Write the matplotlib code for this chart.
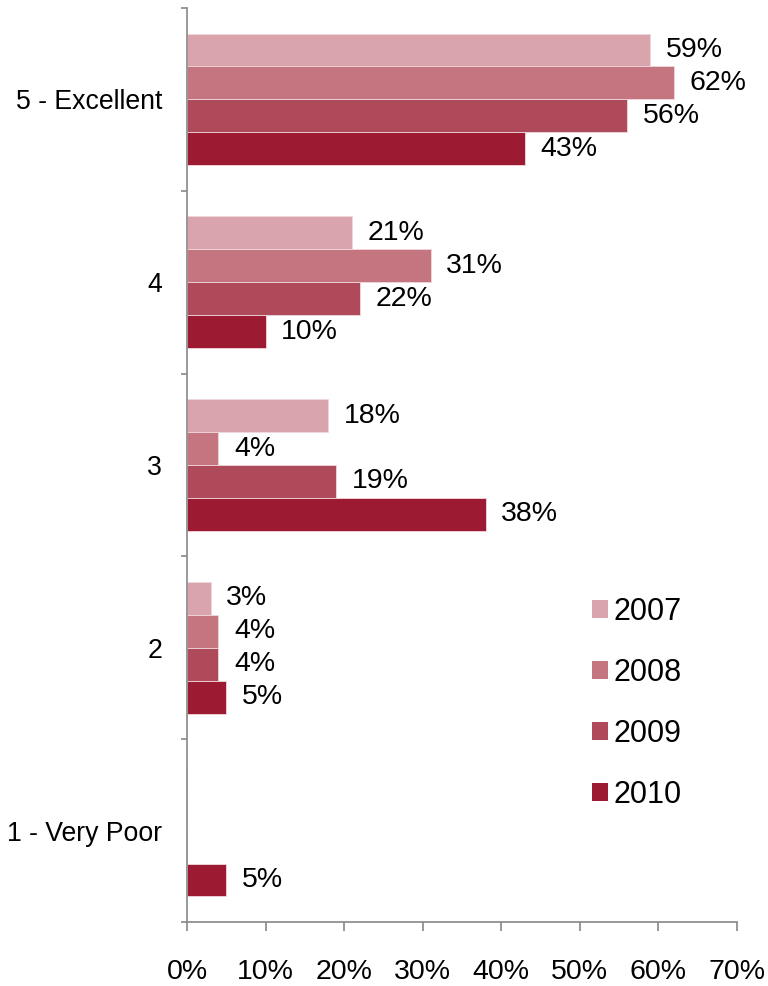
import matplotlib.pyplot as plt
from matplotlib.patches import Patch
import numpy as np

plt.rcParams['font.family'] = ['Liberation Sans', 'DejaVu Sans']

ratings = ["5 - Excellent", "4", "3", "2", "1 - Very Poor"]
years = ["2007", "2008", "2009", "2010"]
share_2007 = [59, 21, 18, 3, 0]
share_2008 = [62, 31, 4, 4, 0]
share_2009 = [56, 22, 19, 4, 0]
share_2010 = [43, 10, 38, 5, 5]
x_ticks = [0, 10, 20, 30, 40, 50, 60, 70]

series = [share_2007, share_2008, share_2009, share_2010]
colors = ["#D9A4AC", "#C47580", "#AE4A5A", "#9C1A32"]

fig = plt.figure(figsize=(7.68, 9.86), dpi=100)
ax = fig.add_axes([0.2435, 0.0649, 0.716, 0.927])

bar_h = 0.18
pos = np.arange(len(ratings))
for i, (vals, col) in enumerate(zip(series, colors)):
    y = pos + (i - 1.5) * bar_h
    ax.barh(y, vals, height=bar_h, color=col, edgecolor="#F0D8DC", linewidth=0.6)
    for yy, v in zip(y, vals):
        if v > 0:
            ax.text(v + 2.0, yy, f"{v}%", va="center", ha="left", fontsize=20.5)

ax.set_xlim(0, 70)
ax.set_ylim(len(ratings) - 0.5, -0.5)
ax.set_xticks(x_ticks)
ax.set_xticklabels([f"{t}%" for t in x_ticks], fontsize=20.5)

# group boundaries get the tick marks, labels sit at group centres
ax.set_yticks(np.arange(len(ratings) + 1) - 0.5)
ax.set_yticklabels([])
ax.set_yticks(pos, minor=True)
ax.set_yticklabels(ratings, minor=True, fontsize=19.2)
ax.tick_params(axis="y", which="minor", length=0, pad=18)
ax.tick_params(axis="y", which="major", length=4.5, color="#888888", width=1.2)
ax.tick_params(axis="x", length=6.5, color="#888888", width=1.2, pad=20)

for side in ["top", "right"]:
    ax.spines[side].set_visible(False)
for side in ["left", "bottom"]:
    ax.spines[side].set_color("#888888")
    ax.spines[side].set_linewidth(1.2)

handles = [Patch(facecolor=c, edgecolor="none") for c in colors]
ax.legend(handles, years, loc="upper left", bbox_to_anchor=(0.736, 0.356),
          frameon=False, fontsize=22, handlelength=0.52, handleheight=0.52,
          handletextpad=0.2, labelspacing=1.02, borderpad=0, borderaxespad=0)

fig.savefig("out.png", dpi=100)
